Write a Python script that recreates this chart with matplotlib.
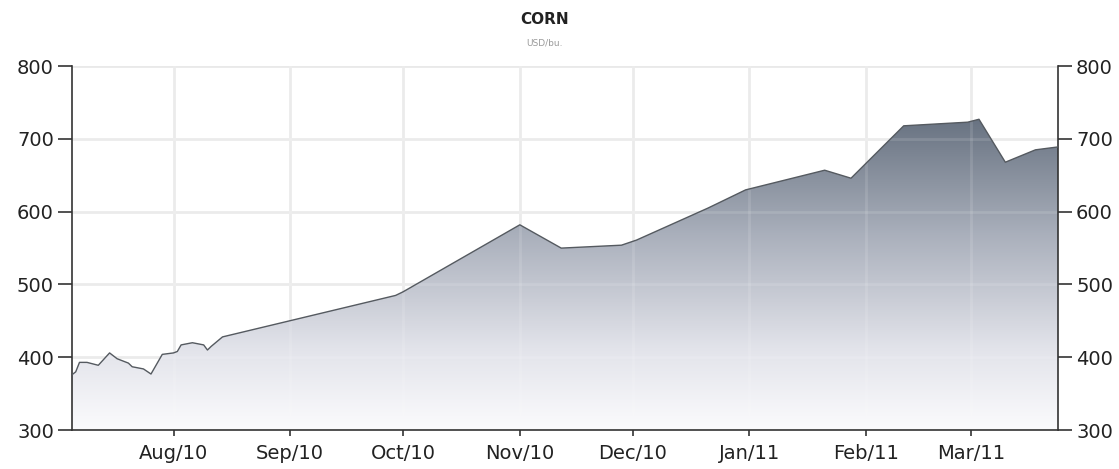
import numpy as np
import matplotlib.pyplot as plt
import matplotlib.dates as mdates
from matplotlib.colors import LinearSegmentedColormap
from datetime import date

# CORN price, USD/bu.
dates = [
    date(2010, 7, 5), date(2010, 7, 6), date(2010, 7, 7), date(2010, 7, 9),
    date(2010, 7, 12), date(2010, 7, 15), date(2010, 7, 17), date(2010, 7, 20),
    date(2010, 7, 21), date(2010, 7, 24), date(2010, 7, 26), date(2010, 7, 29),
    date(2010, 8, 1), date(2010, 8, 2), date(2010, 8, 3), date(2010, 8, 6),
    date(2010, 8, 9), date(2010, 8, 10), date(2010, 8, 11), date(2010, 8, 14),
    date(2010, 9, 29), date(2010, 10, 1), date(2010, 11, 1), date(2010, 11, 12),
    date(2010, 11, 28), date(2010, 12, 2), date(2010, 12, 21), date(2010, 12, 31),
    date(2011, 1, 21), date(2011, 1, 28), date(2011, 2, 11), date(2011, 2, 28),
    date(2011, 3, 3), date(2011, 3, 10), date(2011, 3, 18), date(2011, 3, 24),
]
prices = [
    376, 380, 393, 393,
    389, 406, 398, 392,
    387, 384, 377, 404,
    406, 408, 417, 420,
    417, 410, 415, 428,
    485, 490, 582, 550,
    554, 561, 605, 630,
    657, 646, 718, 723,
    727, 668, 685, 689,
]
month_ticks = [date(2010, 8, 1), date(2010, 9, 1), date(2010, 10, 1), date(2010, 11, 1),
               date(2010, 12, 1), date(2011, 1, 1), date(2011, 2, 1), date(2011, 3, 1)]
month_labels = ["Aug/10", "Sep/10", "Oct/10", "Nov/10", "Dec/10", "Jan/11", "Feb/11", "Mar/11"]
y_ticks = [300, 400, 500, 600, 700, 800]

x = mdates.date2num(dates)
x0, x1 = x[0], x[-1]
y0, y1 = 300, 800

fig = plt.figure(figsize=(11.19, 4.69), dpi=100)
ax = fig.add_axes([0.0643, 0.083, 0.8812, 0.776])

# vertical gradient clipped to the area under the price line
cmap = LinearSegmentedColormap.from_list(
    "slate", [(0.0, "#fbfbfd"), (0.25, "#e2e3ea"), (0.6, "#a9afbb"), (1.0, "#5f6a79")])
grad = np.linspace(0, 1, 256).reshape(-1, 1)
img = ax.imshow(grad, extent=[x0, x1, y0, 750], origin="lower", aspect="auto",
                cmap=cmap, zorder=1)
poly = ax.fill_between(x, prices, y0, color="none", lw=0)
path = poly.get_paths()[0]
img.set_clip_path(path, transform=ax.transData)
ax.plot(x, prices, color="#555a60", lw=1.0, zorder=3)

ax.set_xlim(x0, x1)
ax.set_ylim(y0, y1)
ax.set_xticks(mdates.date2num(month_ticks))
ax.set_xticklabels(month_labels)
ax.set_yticks(y_ticks)

ax.grid(True, color="#e9e9e9", lw=2, zorder=0)
ax.set_axisbelow(True)
# faint grid showing through the filled area
for t in mdates.date2num(month_ticks):
    ax.axvline(t, color="white", lw=2, alpha=0.12, zorder=2)
for t in y_ticks[1:-1]:
    ax.axhline(t, color="white", lw=2, alpha=0.12, zorder=2)

ax.spines["top"].set_visible(False)
for s in ["left", "right", "bottom"]:
    ax.spines[s].set_color("#333333")
    ax.spines[s].set_linewidth(1.2)

ax.tick_params(axis="y", which="both", direction="out", length=10, width=1.2,
               color="#333333", labelsize=14, labelcolor="#222222",
               left=True, right=True, labelleft=True, labelright=True, pad=3)
ax.tick_params(axis="x", direction="inout", length=8, width=1.2, color="#333333",
               labelsize=14, labelcolor="#222222", pad=6)

fig.text(0.487, 0.958, "CORN", ha="center", va="center", fontsize=11,
         fontweight="bold", color="#222222")
fig.text(0.487, 0.908, "USD/bu.", ha="center", va="center", fontsize=6.5,
         color="#9a9a9a")

fig.savefig("out.png", dpi=100)
